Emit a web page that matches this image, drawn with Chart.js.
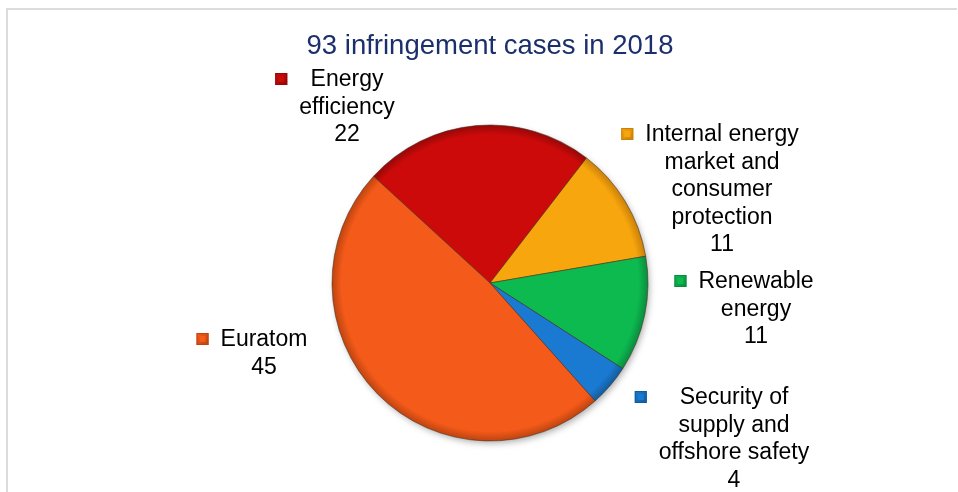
<!DOCTYPE html>
<html>
<head>
<meta charset="utf-8">
<script src="https://cdn.jsdelivr.net/npm/chart.js@4.4.0/dist/chart.umd.min.js"></script>
<style>
  html, body { margin: 0; background: #fff; }
  #wrap { width: 958px; height: 492px; position: relative; }
</style>
</head>
<body>
<div id="wrap"><canvas id="pieChart"></canvas></div>
<script>
const chartTitle = '93 infringement cases in 2018';
const categories = [
  'Energy efficiency',
  'Internal energy market and consumer protection',
  'Renewable energy',
  'Security of supply and offshore safety',
  'Euratom'
];
// wrapped label text, as it appears next to the pie
const categoryLines = [
  ['Energy', 'efficiency'],
  ['Internal energy', 'market and', 'consumer', 'protection'],
  ['Renewable', 'energy'],
  ['Security of', 'supply and', 'offshore safety'],
  ['Euratom']
];
const cases = [22, 11, 11, 4, 45];

const sliceColors = ['#cc0a0a', '#f8a60e', '#0dba50', '#1a79d0', '#f45a19'];
const rimColors = ['#950808', '#c98008', '#0a8c3e', '#125c9c', '#bd4410'];

// label block placement, relative to the pie centre (first line centre)
const labelOffsets = [
  { dx: -143, dy: -203 },
  { dx: 232, dy: -148 },
  { dx: 266, dy: -1 },
  { dx: 244, dy: 115 },
  { dx: -226, dy: 57 }
];

const LABEL_FONT = '23px "Liberation Sans", Arial, sans-serif';
const LINE_H = 27.5;

const framePlugin = {
  id: 'frame',
  beforeDraw(chart) {
    const ctx = chart.ctx;
    ctx.save();
    ctx.strokeStyle = '#dcdcdc';
    ctx.lineWidth = 2;
    ctx.beginPath();
    ctx.moveTo(7, 492);
    ctx.lineTo(7, 9);
    ctx.lineTo(957, 9);
    ctx.stroke();
    ctx.restore();
  }
};

const shadowPlugin = {
  id: 'pieShadow',
  beforeDatasetsDraw(chart) {
    const arc = chart.getDatasetMeta(0).data[0];
    if (!arc) return;
    const ctx = chart.ctx;
    ctx.save();
    ctx.shadowColor = 'rgba(0,0,0,0.35)';
    ctx.shadowBlur = 7;
    ctx.shadowOffsetX = 2;
    ctx.shadowOffsetY = 3;
    ctx.fillStyle = '#999';
    ctx.beginPath();
    ctx.arc(arc.x, arc.y, arc.outerRadius - 1, 0, Math.PI * 2);
    ctx.fill();
    ctx.restore();
  }
};

const labelPlugin = {
  id: 'sliceLabels',
  afterDatasetsDraw(chart) {
    const meta = chart.getDatasetMeta(0);
    const ctx = chart.ctx;
    ctx.save();
    ctx.font = LABEL_FONT;
    ctx.fillStyle = '#000';
    ctx.textAlign = 'center';
    ctx.textBaseline = 'middle';
    meta.data.forEach((arc, i) => {
      const lines = categoryLines[i].concat(String(cases[i]));
      const cx = arc.x + labelOffsets[i].dx;
      const y0 = arc.y + labelOffsets[i].dy;
      lines.forEach((t, k) => ctx.fillText(t, cx, y0 + k * LINE_H));
      // legend key to the left of the block
      const widest = Math.max(...lines.map(t => ctx.measureText(t).width));
      const mx = cx - widest / 2 - 12 - 12;
      const my = y0 - 7;
      const g = ctx.createLinearGradient(mx, my, mx + 12, my + 12);
      g.addColorStop(0, sliceColors[i]);
      g.addColorStop(1, rimColors[i]);
      ctx.fillStyle = g;
      ctx.fillRect(mx, my, 12, 12);
      ctx.strokeStyle = rimColors[i];
      ctx.lineWidth = 1;
      ctx.strokeRect(mx + 0.5, my + 0.5, 11, 11);
      ctx.fillStyle = sliceColors[i];
      ctx.fillRect(mx + 3, my + 3, 6, 6);
      ctx.fillStyle = '#000';
    });
    ctx.restore();
  }
};

function sliceFill(c) {
  const chart = c.chart;
  const area = chart.chartArea;
  const i = c.dataIndex;
  if (!area) return sliceColors[i];
  const x = (area.left + area.right) / 2;
  const y = (area.top + area.bottom) / 2;
  const g = chart.ctx.createRadialGradient(x, y, 0, x, y, 158);
  g.addColorStop(0, sliceColors[i]);
  g.addColorStop(0.94, sliceColors[i]);
  g.addColorStop(1, rimColors[i]);
  return g;
}

new Chart(document.getElementById('pieChart'), {
  type: 'pie',
  data: {
    labels: categories,
    datasets: [{
      data: cases,
      backgroundColor: sliceFill,
      borderColor: 'rgba(70,45,30,0.55)',
      borderWidth: 1
    }]
  },
  options: {
    responsive: true,
    maintainAspectRatio: false,
    animation: false,
    events: [],
    rotation: -47.5,
    radius: 158,
    layout: { padding: { left: 100, right: 78, top: 0, bottom: 20 } },
    plugins: {
      legend: { display: false },
      tooltip: { enabled: false },
      title: {
        display: true,
        text: chartTitle,
        color: '#1a2f6c',
        font: { family: '"Liberation Sans", Arial, sans-serif', size: 27.5, weight: 'normal' },
        padding: { top: 30, bottom: 31 }
      }
    }
  },
  plugins: [framePlugin, shadowPlugin, labelPlugin]
});
</script>
</body>
</html>
